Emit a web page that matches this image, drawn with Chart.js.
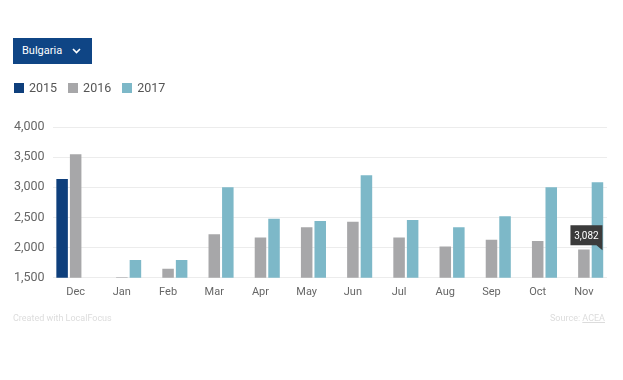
<!DOCTYPE html>
<html>
<head>
<meta charset="utf-8">
<script src="https://cdn.jsdelivr.net/npm/chart.js@4"></script>
<style>
  body { margin: 0; background: #fff; font-family: Roboto, "Noto Sans", sans-serif; }
  #wrap { position: relative; width: 623px; height: 380px; }
  #chart { position: absolute; left: 0; top: 0; }
  .btn { position: absolute; left: 13px; top: 38px; width: 79px; height: 26px; background: #0f4585;
         color: #fff; font-size: 11px; line-height: 26px; box-sizing: border-box; padding-left: 9px; }
  .btn svg { position: absolute; left: 59px; top: 10px; }
  .foot { position: absolute; top: 313px; font-size: 9px; color: #dcdcdc; }
  #legenda { position: absolute; left: 14px; top: 80px; font-size: 12.5px; color: #555; }
  #legenda span { display: inline-block; margin-right: 11px; line-height: 16px; }
  #legenda i { display: inline-block; width: 10px; height: 10px; margin-right: 5px; vertical-align: -1px; }
</style>
</head>
<body>
<div id="wrap">
  <canvas id="chart" width="623" height="380"></canvas>
  <div class="btn">Bulgaria<svg width="9" height="6"><path d="M1 1 L4.5 4.5 L8 1" stroke="#fff" stroke-width="1.6" fill="none"/></svg></div>
  <div id="legenda"></div>
  <div class="foot" style="left:13px">Created with LocalFocus</div>
  <div class="foot" style="right:18px">Source: <u>ACEA</u></div>
</div>
<script>
var mesi = ['Dec','Jan','Feb','Mar','Apr','May','Jun','Jul','Aug','Sep','Oct','Nov'];
var anni = ['2015','2016','2017'];
var dati2015 = [3140, null, null, null, null, null, null, null, null, null, null, null];
var dati2016 = [3550, 1510, 1650, 2220, 2170, 2340, 2430, 2170, 2020, 2130, 2110, 1970];
var dati2017 = [null, 1795, 1795, 3000, 2480, 2440, 3200, 2460, 2340, 2520, 3000, 3082];
var colori = ['#0e3f7c', '#a7a7a9', '#7db8c8'];
var yTicks = [1500, 2000, 2500, 3000, 3500, 4000];

// legenda html
var leg = document.getElementById('legenda');
anni.forEach(function(a, i){
    leg.innerHTML += '<span><i style="background:' + colori[i] + '"></i>' + a + '</span>';
});

var tooltipFisso = {
    id: 'tooltipFisso',
    afterDatasetsDraw: function(chart) {
        var meta = chart.getDatasetMeta(2);
        var bar = meta.data[11];
        var ctx = chart.ctx;
        var testo = dati2017[11].toLocaleString('en-US');
        var w = 32, h = 20;
        var x = bar.x - 27;
        var y = chart.scales.y.getPixelForValue(2370);
        ctx.save();
        ctx.fillStyle = '#3b3b3b';
        ctx.beginPath();
        ctx.moveTo(x, y);
        ctx.lineTo(x + w, y);
        ctx.lineTo(x + w, y + h + 5);
        ctx.lineTo(x + w - 6, y + h);
        ctx.lineTo(x, y + h);
        ctx.closePath();
        ctx.fill();
        ctx.fillStyle = '#fff';
        ctx.font = '10px Roboto';
        ctx.textAlign = 'center';
        ctx.textBaseline = 'middle';
        ctx.fillText(testo, x + w / 2, y + h / 2 + 1);
        ctx.restore();
    }
};

var ctx = document.getElementById('chart').getContext('2d');
var chart = new Chart(ctx, {
    type: 'bar',
    data: {
        labels: mesi,
        datasets: [
            { label: anni[0], data: dati2015, backgroundColor: colori[0] },
            { label: anni[1], data: dati2016, backgroundColor: colori[1] },
            { label: anni[2], data: dati2017, backgroundColor: colori[2] }
        ]
    },
    options: {
        responsive: false,
        animation: false,
        layout: { padding: { left: 6, right: 16, top: 127, bottom: 81 } },
        datasets: { bar: { categoryPercentage: 0.88, barPercentage: 0.85 } },
        plugins: {
            tooltip: { enabled: false },
            legend: { display: false }
        },
        scales: {
            x: {
                grid: { display: false },
                border: { display: false },
                ticks: { color: '#666', font: { family: 'Roboto', size: 11 }, padding: 0 }
            },
            y: {
                min: 1500, max: 4000,
                afterBuildTicks: function(ax) { ax.ticks = yTicks.map(function(v){ return { value: v }; }); },
                grid: { color: '#ececec', drawTicks: false },
                border: { display: false },
                ticks: {
                    color: '#666', padding: 8, font: { family: 'Roboto', size: 12.5 },
                    callback: function(v) { return v.toLocaleString('en-US'); }
                }
            }
        }
    },
    plugins: [tooltipFisso]
});
</script>
</body>
</html>
